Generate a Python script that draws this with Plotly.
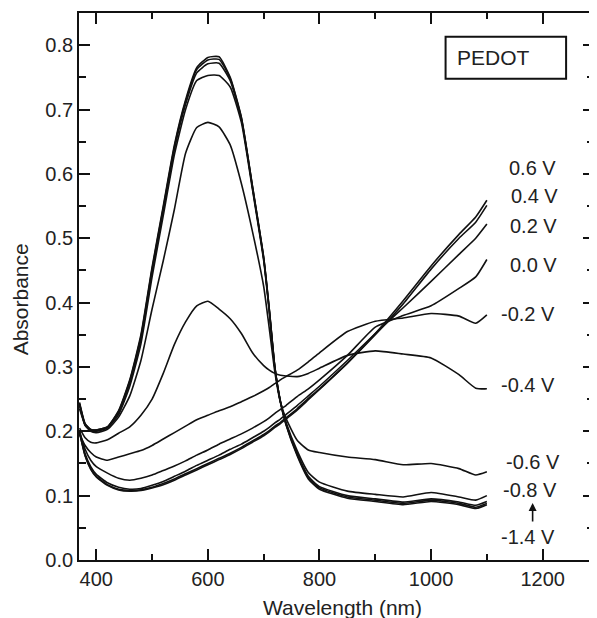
import plotly.graph_objects as go

# wavelength grid (nm)
wavelength = [370, 380, 390, 400, 420, 440, 460, 480, 500, 520, 540, 560, 580, 600,
              620, 640, 660, 680, 700, 710, 720, 730, 740, 760, 780, 800, 850, 900,
              950, 1000, 1050, 1080, 1100]

# absorbance per applied potential
abs_m14 = [0.245, 0.212, 0.203, 0.202, 0.207, 0.232, 0.280, 0.350, 0.455, 0.550, 0.645, 0.715,
           0.765, 0.781, 0.782, 0.750, 0.688, 0.580, 0.470, 0.390, 0.300, 0.245, 0.210, 0.162,
           0.126, 0.110, 0.096, 0.091, 0.086, 0.091, 0.086, 0.080, 0.086]
abs_m12 = [0.243, 0.211, 0.203, 0.202, 0.207, 0.231, 0.278, 0.347, 0.452, 0.547, 0.642, 0.712,
           0.762, 0.777, 0.778, 0.748, 0.687, 0.580, 0.470, 0.390, 0.300, 0.246, 0.211, 0.164,
           0.128, 0.112, 0.098, 0.093, 0.088, 0.093, 0.088, 0.082, 0.088]
abs_m10 = [0.242, 0.210, 0.202, 0.201, 0.206, 0.229, 0.275, 0.343, 0.448, 0.543, 0.638, 0.708,
           0.757, 0.771, 0.772, 0.745, 0.685, 0.578, 0.468, 0.388, 0.299, 0.246, 0.212, 0.166,
           0.130, 0.114, 0.100, 0.095, 0.090, 0.095, 0.090, 0.085, 0.091]
abs_m08 = [0.240, 0.209, 0.201, 0.200, 0.205, 0.226, 0.270, 0.336, 0.440, 0.535, 0.630, 0.700,
           0.745, 0.753, 0.753, 0.735, 0.680, 0.575, 0.465, 0.386, 0.298, 0.247, 0.214, 0.170,
           0.136, 0.121, 0.107, 0.102, 0.098, 0.105, 0.098, 0.093, 0.100]
abs_m06 = [0.235, 0.210, 0.200, 0.198, 0.203, 0.222, 0.255, 0.310, 0.390, 0.465, 0.545, 0.632,
           0.672, 0.680, 0.673, 0.645, 0.585, 0.510, 0.425, 0.360, 0.292, 0.245, 0.220, 0.186,
           0.171, 0.167, 0.160, 0.156, 0.148, 0.150, 0.142, 0.132, 0.137]
abs_m04 = [0.205, 0.190, 0.183, 0.182, 0.187, 0.197, 0.207, 0.225, 0.250, 0.290, 0.335, 0.370,
           0.395, 0.402, 0.390, 0.375, 0.352, 0.322, 0.302, 0.295, 0.290, 0.287, 0.286, 0.285,
           0.290, 0.298, 0.318, 0.325, 0.320, 0.314, 0.288, 0.267, 0.266]
abs_m02 = [0.195, 0.178, 0.167, 0.160, 0.155, 0.160, 0.165, 0.170, 0.178, 0.188, 0.198, 0.208,
           0.218, 0.225, 0.232, 0.238, 0.246, 0.254, 0.263, 0.268, 0.274, 0.280, 0.285, 0.295,
           0.308, 0.322, 0.355, 0.371, 0.376, 0.383, 0.379, 0.368, 0.381]
abs_p00 = [0.200, 0.172, 0.155, 0.145, 0.135, 0.127, 0.124, 0.127, 0.132, 0.139, 0.146, 0.154,
           0.163, 0.171, 0.180, 0.188, 0.196, 0.205, 0.215, 0.221, 0.228, 0.234, 0.240, 0.254,
           0.266, 0.280, 0.318, 0.362, 0.380, 0.395, 0.422, 0.440, 0.467]
abs_p02 = [0.200, 0.165, 0.145, 0.133, 0.120, 0.113, 0.110, 0.111, 0.116, 0.122, 0.130, 0.138,
           0.147, 0.155, 0.163, 0.172, 0.180, 0.190, 0.200, 0.206, 0.213, 0.219, 0.226, 0.240,
           0.255, 0.270, 0.310, 0.352, 0.392, 0.433, 0.475, 0.500, 0.522]
abs_p04 = [0.198, 0.162, 0.142, 0.130, 0.117, 0.110, 0.108, 0.109, 0.113, 0.119, 0.126, 0.134,
           0.142, 0.150, 0.158, 0.166, 0.175, 0.185, 0.195, 0.201, 0.208, 0.214, 0.221, 0.235,
           0.251, 0.266, 0.306, 0.350, 0.398, 0.452, 0.500, 0.525, 0.551]
abs_p06 = [0.198, 0.162, 0.141, 0.129, 0.116, 0.109, 0.107, 0.108, 0.112, 0.117, 0.124, 0.132,
           0.140, 0.148, 0.156, 0.164, 0.173, 0.183, 0.193, 0.199, 0.206, 0.212, 0.219, 0.233,
           0.249, 0.265, 0.306, 0.352, 0.403, 0.457, 0.506, 0.533, 0.559]

series = [abs_m14, abs_m12, abs_m10, abs_m08, abs_m06, abs_m04, abs_m02,
          abs_p00, abs_p02, abs_p04, abs_p06]

# curve labels at right side
label_text = ['0.6 V', '0.4 V', '0.2 V', '0.0 V', '-0.2 V', '-0.4 V', '-0.6 V', '-0.8 V', '-1.4 V']
label_x = [1182, 1185, 1184, 1184, 1173, 1173, 1182, 1178, 1173]
label_y = [0.609, 0.565, 0.519, 0.459, 0.382, 0.272, 0.152, 0.1095, 0.035]

FONT = 'Liberation Sans, Arial, sans-serif'
INK = '#222222'

fig = go.Figure()
for s in series:
    fig.add_trace(go.Scatter(x=wavelength, y=s, mode='lines',
                             line=dict(color='#111111', width=1.6, shape='spline', smoothing=0.5),
                             showlegend=False, hoverinfo='skip'))

ann = []
for t, x, y in zip(label_text, label_x, label_y):
    ann.append(dict(x=x, y=y, xref='x', yref='y', text=t, showarrow=False,
                    xanchor='center', yanchor='middle', font=dict(size=20, color=INK)))
# arrow from -1.4 V up to -0.8 V
ann.append(dict(x=1182, y=0.0885, xref='x', yref='y', text='', showarrow=True,
                ax=0, ay=20, arrowhead=2, arrowsize=1, arrowwidth=1.6, arrowcolor='#111'))
# box label
ann.append(dict(x=1042, y=0.7805, xref='x', yref='y', text='PEDOT', showarrow=False,
                xanchor='left', yanchor='middle', font=dict(size=21, color=INK)))
# axis titles
ann.append(dict(x=-0.114, y=0.477, xref='paper', yref='paper', text='Absorbance', showarrow=False,
                textangle=-90, xanchor='center', yanchor='middle', font=dict(size=21, color=INK)))
ann.append(dict(x=0.511, y=-0.086, xref='paper', yref='paper', text='Wavelength (nm)',
                showarrow=False, xanchor='center', yanchor='middle', font=dict(size=21, color=INK)))

# page body keeps an 8px margin, so the figure is 8px smaller and the left/top margins shrink by 8
fig.update_layout(
    width=589, height=610,
    margin=dict(l=71, r=1, t=5, b=58),
    plot_bgcolor='white', paper_bgcolor='white',
    font=dict(family=FONT, size=20, color=INK),
    annotations=ann,
    shapes=[dict(type='rect', xref='x', yref='y', x0=1026, x1=1242, y0=0.748, y1=0.813,
                 line=dict(color='#111', width=2), fillcolor='rgba(0,0,0,0)')],
)
fig.update_xaxes(range=[369, 1292], dtick=200, tick0=0, ticks='inside', ticklen=11, tickwidth=1.5,
                 showline=True, linecolor='#111', linewidth=1.8, mirror='allticks',
                 showgrid=False, zeroline=False, tickcolor='#111',
                 minor=dict(dtick=100, tick0=0, ticks='inside', ticklen=6, tickwidth=1.5, tickcolor='#111'))
fig.update_yaxes(range=[0, 0.85], dtick=0.1, tick0=0, tickformat='.1f', ticks='inside', ticklen=11,
                 tickwidth=1.5, showline=True, linecolor='#111', linewidth=1.8, mirror='allticks',
                 showgrid=False, zeroline=False, tickcolor='#111',
                 minor=dict(dtick=0.05, tick0=0, ticks='inside', ticklen=7, tickwidth=1.5, tickcolor='#111'))

fig.write_html("out.html")
